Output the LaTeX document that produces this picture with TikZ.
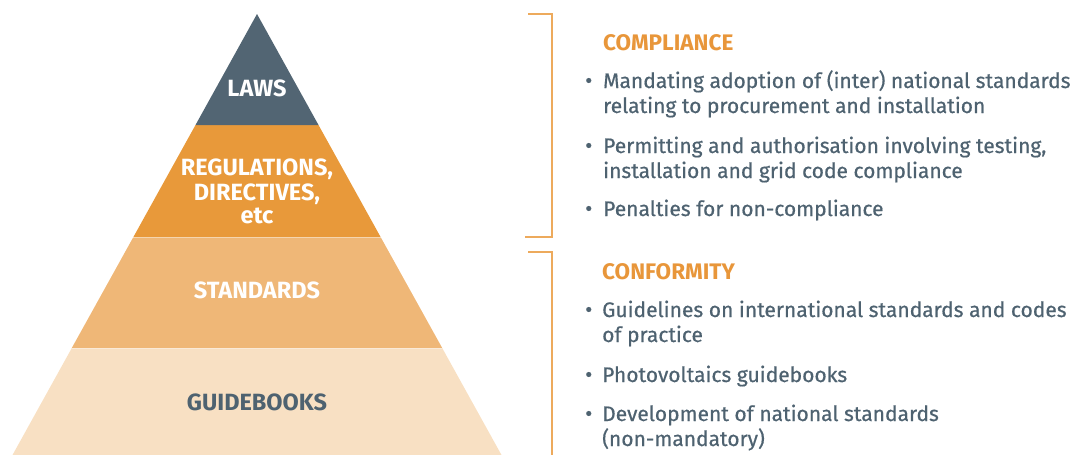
\documentclass[tikz,border=0pt]{standalone}
\usepackage{fontspec}
\setmainfont{Fira Sans}
\newfontfamily\bodyfont{Fira Sans}[FakeBold=0.6]
\definecolor{lawsc}{HTML}{526573}
\definecolor{regc}{HTML}{E8993A}
\definecolor{stdc}{HTML}{EFB777}
\definecolor{guidec}{HTML}{F8E0C3}
\definecolor{txtc}{HTML}{4E6270}
\definecolor{headc}{HTML}{E8963A}
\definecolor{brc}{HTML}{EDAA5C}
\begin{document}
\begin{tikzpicture}[x=1pt,y=-1pt,
  lbl/.style={font=\fontsize{23.5}{25}\selectfont\bfseries, text=white, anchor=base, inner sep=0pt},
  head/.style={font=\fontsize{22.5}{25}\selectfont\bfseries, text=headc, anchor=base west, inner sep=0pt},
  itm/.style={font=\fontsize{21}{25}\bodyfont, text=txtc, anchor=base west, inner sep=0pt},
  bul/.style={font=\fontsize{22}{25}\bodyfont, text=txtc, anchor=base west, inner sep=0pt},
  brk/.style={draw=brc, line width=1.8pt},
  sep/.style={draw=white, draw opacity=0.45, line width=1pt}]
\useasboundingbox (0,0) rectangle (1076,455);
% pyramid bands
\fill[guidec] (71.8,348) -- (442.2,348) -- (501.5,455) -- (12.5,455) -- cycle;
\fill[stdc] (133.4,237) -- (380.6,237) -- (442.2,348) -- (71.8,348) -- cycle;
\fill[regc] (195.5,125) -- (318.5,125) -- (380.6,237) -- (133.4,237) -- cycle;
\fill[lawsc] (257,14) -- (318.5,125) -- (195.5,125) -- cycle;
\draw[sep] (133.4,237) -- (380.6,237);
\draw[sep] (71.8,348) -- (442.2,348);
% labels
\node[lbl] (laws) at (257,96) {LAWS};
\node[lbl] (reg1) at (257,175) {REGULATIONS,};
\node[lbl] (reg2) at (257,200) {DIRECTIVES,};
\node[lbl] (reg3) at (257,223) {etc};
\node[lbl] (std) at (257,298) {STANDARDS};
\node[lbl, text=txtc] (guide) at (257,410) {GUIDEBOOKS};
% brackets
\coordinate (b1a) at (528,14);
\coordinate (b1b) at (552,14);
\coordinate (b1c) at (552,237);
\coordinate (b1d) at (525,237);
\draw[brk] (b1a) -- (b1b) -- (b1c) -- (b1d);
\coordinate (b2a) at (528,252);
\coordinate (b2b) at (552,252);
\coordinate (b2c) at (552,456);
\draw[brk] (b2a) -- (b2b) -- (b2c);
% compliance
\node[head] (comp) at (603,50) {COMPLIANCE};
\node[bul] (c1b) at (585,88) {•};
\node[itm] (c1) at (603,88) {Mandating adoption of (inter) national standards};
\node[itm] (c1x) at (603,113) {relating to procurement and installation};
\node[bul] (c2b) at (585,153) {•};
\node[itm] (c2) at (603,153) {Permitting and authorisation involving testing,};
\node[itm] (c2x) at (603,178) {installation and grid code compliance};
\node[bul] (c3b) at (585,216) {•};
\node[itm] (c3) at (603,216) {Penalties for non-compliance};
% conformity
\node[head] (conf) at (602,279) {CONFORMITY};
\node[bul] (f1b) at (585,317) {•};
\node[itm] (f1) at (602,317) {Guidelines on international standards and codes};
\node[itm] (f1x) at (602,342) {of practice};
\node[bul] (f2b) at (585,382) {•};
\node[itm] (f2) at (602,382) {Photovoltaics guidebooks};
\node[bul] (f3b) at (585,421) {•};
\node[itm] (f3) at (602,421) {Development of national standards};
\node[itm] (f3x) at (602,446) {(non-mandatory)};
\end{tikzpicture}
\end{document}
